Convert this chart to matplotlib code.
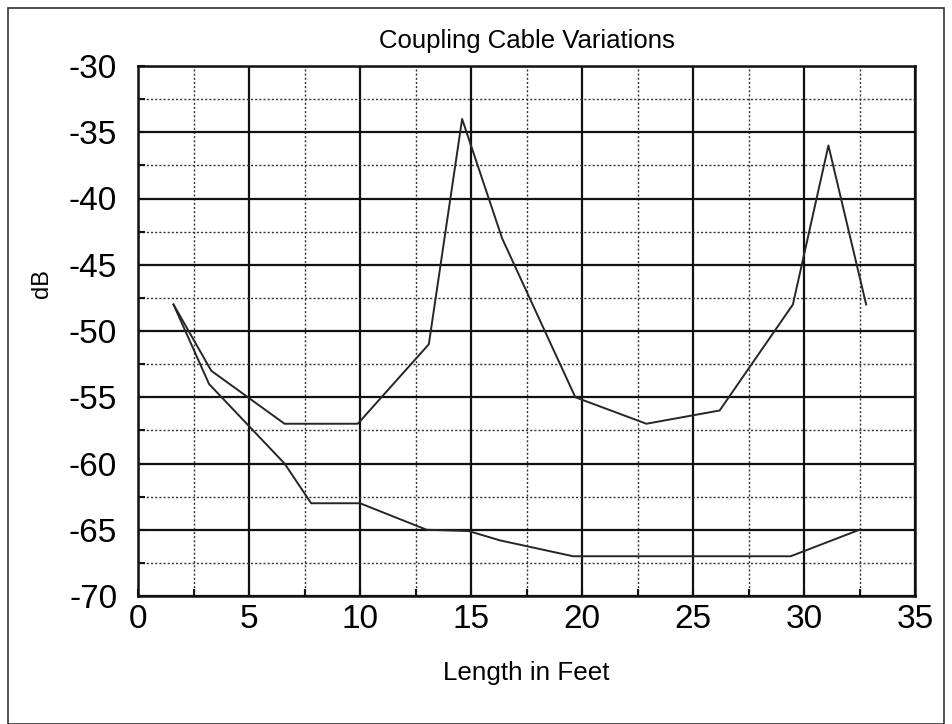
import matplotlib
matplotlib.use("Agg")
import matplotlib.pyplot as plt
from matplotlib.patches import Rectangle
from matplotlib.ticker import MultipleLocator

plt.rcParams['font.family'] = ['Liberation Sans', 'DejaVu Sans']
plt.rcParams['axes.unicode_minus'] = False

# Data
upper_x = [1.6, 3.3, 6.6, 9.9, 11.5, 13.1, 14.6, 16.4, 19.7, 22.9, 26.2, 29.5, 31.1, 32.8]
upper_y = [-48, -53, -57, -57, -54, -51, -34, -43, -55, -57, -56, -48, -36, -48]
lower_x = [1.6, 3.2, 6.6, 7.8, 10.0, 13.0, 14.9, 16.3, 19.6, 26.2, 29.4, 32.5]
lower_y = [-48, -54, -60, -63, -63, -65, -65.1, -65.8, -67, -67, -67, -65]

title = "Coupling Cable Variations"
xlabel = "Length in Feet"
ylabel = "dB"

W, H = 952, 724
fig = plt.figure(figsize=(W / 100, H / 100), dpi=100)
ax = fig.add_axes([138 / W, 1 - 596 / H, (915 - 138) / W, (596 - 66) / H])

ax.plot(upper_x, upper_y, color='#262626', lw=1.4)
ax.plot(lower_x, lower_y, color='#262626', lw=1.4)

ax.set_xlim(0, 35)
ax.set_ylim(-70, -30)
ax.xaxis.set_major_locator(MultipleLocator(5))
ax.xaxis.set_minor_locator(MultipleLocator(2.5))
ax.yaxis.set_major_locator(MultipleLocator(5))
ax.yaxis.set_minor_locator(MultipleLocator(2.5))

ax.grid(which='major', color='#111111', lw=1.6, ls='-')
ax.grid(which='minor', color='#333333', lw=1.0, ls=(0, (1.5, 1.5)))
ax.set_axisbelow(True)

ax.tick_params(which='both', direction='in', length=5, width=1.5, color='#111111')
ax.tick_params(axis='y', which='major', labelsize=24, pad=15)
ax.tick_params(axis='x', which='major', labelsize=24, pad=6)
for s in ax.spines.values():
    s.set_linewidth(1.8)
    s.set_color('#111111')

ax.set_title(title, fontsize=18.5, y=1.034, pad=0)
ax.set_xlabel(xlabel, fontsize=18.7)
ax.xaxis.set_label_coords(0.5, -0.122)
ax.set_ylabel(ylabel, fontsize=17)
ax.yaxis.set_label_coords(-0.11, 0.59)

fig.patches.append(Rectangle((8 / W, 0.5 / H), (944 - 8) / W, (716 - 0.5) / H,
                             transform=fig.transFigure, fill=False,
                             edgecolor='#333333', lw=1.2))

fig.savefig("out.png", dpi=100)
